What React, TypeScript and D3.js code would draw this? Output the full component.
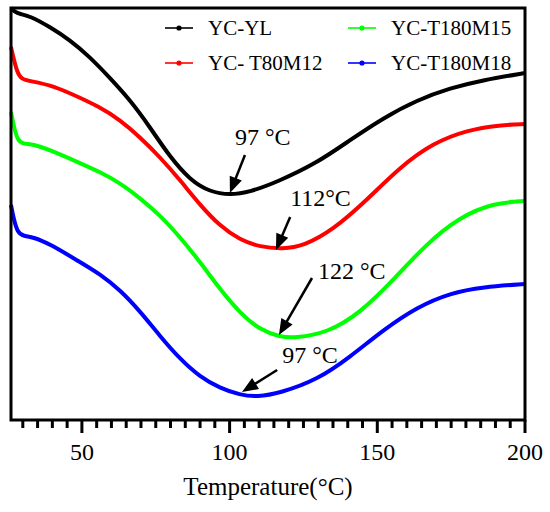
import * as d3 from 'd3'

const W = 550, H = 512
const M = { top: 8, right: 25, bottom: 92, left: 11 }
const FONT = '"Liberation Serif", "Times New Roman", serif'

// temperature (°C) and heat flow (a.u.)
const tempYL = [26, 27.3, 29, 32.4, 39.2, 45.9, 52.7, 59.5, 66.3, 73, 79.8, 86.6, 93.4, 100.1, 106.9, 116.1, 129.6, 140.8, 152, 163.5, 174.7, 185.8, 200]
const flowYL = [4.12, 4.08, 4.06, 4.04, 3.93, 3.8, 3.63, 3.42, 3.2, 2.93, 2.63, 2.4, 2.28, 2.25, 2.28, 2.38, 2.57, 2.8, 3.02, 3.2, 3.32, 3.4, 3.47]

const tempT80 = [26, 27, 28.2, 29.5, 32.4, 39.2, 45.9, 56.1, 62.9, 69.6, 76.4, 83.2, 90, 96.7, 103.5, 110.3, 118, 125, 135, 146.5, 157.7, 168.9, 180.4, 191.6, 200]
const flowT80 = [3.73, 3.6, 3.47, 3.41, 3.39, 3.35, 3.27, 3.13, 3.0, 2.83, 2.63, 2.4, 2.15, 1.94, 1.8, 1.73, 1.71, 1.74, 1.9, 2.2, 2.53, 2.77, 2.9, 2.95, 2.96]

const tempM15 = [26, 27, 28.2, 30, 33.4, 39.2, 49.3, 56.1, 62.9, 69.6, 76.4, 83.2, 90, 96.7, 103.5, 110.3, 117.1, 122, 133, 144.2, 155.4, 166.9, 178, 189.2, 200]
const flowM15 = [3.08, 2.93, 2.8, 2.76, 2.76, 2.7, 2.57, 2.48, 2.37, 2.22, 2.05, 1.83, 1.58, 1.31, 1.07, 0.9, 0.83, 0.82, 0.87, 1.07, 1.4, 1.77, 2.03, 2.17, 2.19]

const tempM18 = [26, 27, 28.2, 30, 33.4, 39.2, 49.3, 56.1, 62.9, 69.6, 76.4, 83.2, 90, 96.7, 103.5, 109.3, 117.1, 129.6, 140.8, 152, 163.5, 174.7, 185.8, 200]
const flowM18 = [2.15, 2.0, 1.88, 1.84, 1.83, 1.76, 1.58, 1.46, 1.3, 1.09, 0.84, 0.61, 0.43, 0.32, 0.25, 0.23, 0.27, 0.4, 0.63, 0.9, 1.13, 1.27, 1.33, 1.36]

const seriesNames = ['YC-YL', 'YC- T80M12', 'YC-T180M15', 'YC-T180M18']
const seriesColors = ['#000000', '#ff0000', '#00ff00', '#0000ff']
const seriesTemps = [tempYL, tempT80, tempM15, tempM18]
const seriesFlows = [flowYL, flowT80, flowM15, flowM18]

const xTicks = [50, 100, 150, 200]

// peak labels: text anchor, arrow tail, arrow tip (°C, a.u.)
const peakLabels = ['97 °C', '112°C', '122 °C', '97 °C']
const peakText = [[101.8, 2.75], [120.5, 2.14], [129.9, 1.41], [117.8, 0.57]]
const arrowFrom = [[105.2, 2.65], [120.5, 2.03], [127.9, 1.42], [116.1, 0.5]]
const arrowTo = [[100.1, 2.27], [115.7, 1.7], [116.7, 0.85], [104.2, 0.28]]

export default function App() {
  const x = d3.scaleLinear().domain([26, 200]).range([M.left, W - M.right])
  const y = d3.scaleLinear().domain([0, 4.12]).range([H - M.bottom, M.top])
  const y0 = H - M.bottom

  const line = d3.line<[number, number]>()
    .x(d => x(d[0]))
    .y(d => y(d[1]))
    .curve(d3.curveBasis)

  const minor = d3.range(30, 200, 5).filter(v => v % 50 !== 0)

  const arrowHead = (fx: number, fy: number, tx: number, ty: number) => {
    const a = Math.atan2(ty - fy, tx - fx)
    const L = 16, w = 6.5
    const bx = tx - L * Math.cos(a), by = ty - L * Math.sin(a)
    const px = -Math.sin(a) * w, py = Math.cos(a) * w
    return `M${tx},${ty}L${bx + px},${by + py}L${bx - px},${by - py}Z`
  }

  return (
    <svg width={W} height={H} style={{ position: 'absolute', left: 0, top: 0, background: '#fff' }}
      fontFamily={FONT}>
      {/* curves */}
      {seriesTemps.map((ts, i) => (
        <path key={i} d={line(ts.map((t, j) => [t, seriesFlows[i][j]] as [number, number])) ?? ''}
          fill="none" stroke={seriesColors[i]} strokeWidth={4} strokeLinejoin="round" />
      ))}

      {/* frame */}
      <rect x={M.left} y={M.top} width={W - M.right - M.left} height={y0 - M.top}
        fill="none" stroke="#000" strokeWidth={3} />

      {/* x ticks */}
      {minor.map(v => (
        <line key={'m' + v} x1={x(v)} x2={x(v)} y1={y0} y2={y0 + 8} stroke="#000" strokeWidth={3} />
      ))}
      {xTicks.map(v => (
        <g key={v}>
          <line x1={x(v)} x2={x(v)} y1={y0} y2={y0 + 13} stroke="#000" strokeWidth={3} />
          <text x={x(v)} y={y0 + 40} textAnchor="middle" fontSize={24}>{v}</text>
        </g>
      ))}
      <text x={(M.left + W - M.right) / 2} y={y0 + 75} textAnchor="middle" fontSize={25}>Temperature(°C)</text>

      {/* legend, two columns */}
      {seriesNames.map((name, i) => {
        const col = i === 0 || i === 1 ? 165 : 348
        const row = i === 0 || i === 2 ? 28 : 63
        return (
          <g key={name} transform={`translate(${col},${row})`}>
            <line x1={0} x2={28} y1={0} y2={0} stroke={seriesColors[i]} strokeWidth={1.6} />
            <circle cx={14} cy={0} r={2.6} fill={seriesColors[i]} />
            <text x={43} y={7} fontSize={21}>{name}</text>
          </g>
        )
      })}

      {/* peak annotations */}
      {peakLabels.map((lab, i) => {
        const fx = x(arrowFrom[i][0]), fy = y(arrowFrom[i][1])
        const tx = x(arrowTo[i][0]), ty = y(arrowTo[i][1])
        const a = Math.atan2(ty - fy, tx - fx)
        return (
          <g key={i}>
            <text x={x(peakText[i][0])} y={y(peakText[i][1])} fontSize={24}>{lab}</text>
            <line x1={fx} y1={fy} x2={tx - 12 * Math.cos(a)} y2={ty - 12 * Math.sin(a)} stroke="#000" strokeWidth={2.5} />
            <path d={arrowHead(fx, fy, tx, ty)} fill="#000" />
          </g>
        )
      })}
    </svg>
  )
}
